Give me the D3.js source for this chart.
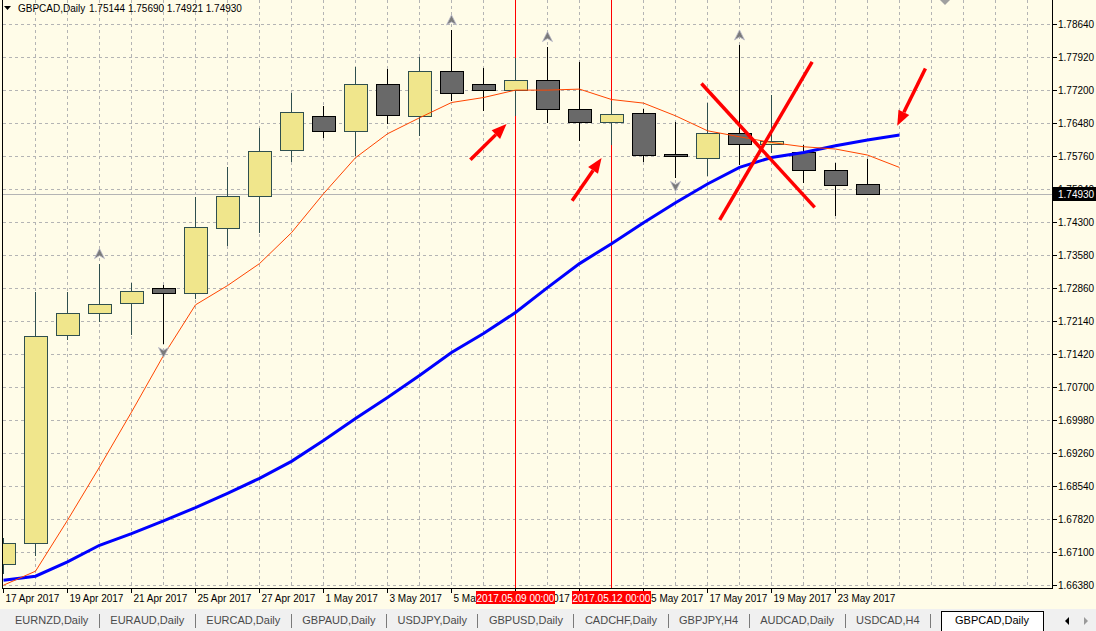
<!DOCTYPE html>
<html lang="en">

<head>
    <meta charset="UTF-8">
    <title>GBPCAD,Daily</title>
    <script src="https://d3js.org/d3.v7.min.js"></script>
    <style>
        body {
            margin: 0;
            padding: 0;
            overflow: hidden;
            background: #fffce8;
        }

        svg {
            display: block;
            font-family: "Liberation Sans", Arial, sans-serif;
        }

        .grid line {
            stroke: #b4b4b4;
            stroke-dasharray: 3, 3;
            shape-rendering: crispEdges;
        }

        .axis-label {
            font-size: 10px;
            fill: #000;
        }

        .tab-label {
            font-size: 11px;
            fill: #4a4a4a;
        }
    </style>
</head>

<body>
<svg id="chart" width="1096" height="631"></svg>

<script>
    // bars (one per trading day)
    const barDates = ["17 Apr 2017", "18 Apr 2017", "19 Apr 2017", "20 Apr 2017", "21 Apr 2017",
        "24 Apr 2017", "25 Apr 2017", "26 Apr 2017", "27 Apr 2017", "28 Apr 2017",
        "1 May 2017", "2 May 2017", "3 May 2017", "4 May 2017", "5 May 2017",
        "8 May 2017", "9 May 2017", "10 May 2017", "11 May 2017", "12 May 2017",
        "15 May 2017", "16 May 2017", "17 May 2017", "18 May 2017", "19 May 2017",
        "22 May 2017", "23 May 2017", "24 May 2017"];
    const openP = [1.66845, 1.67296, 1.71835, 1.72315, 1.72533, 1.72860, 1.72757, 1.74176, 1.74874, 1.75877,
        1.76619, 1.76292, 1.77317, 1.76635, 1.77616, 1.77333, 1.77202, 1.77420, 1.76787, 1.76504,
        1.76700, 1.75790, 1.75725, 1.76255, 1.76024, 1.75849, 1.75456, 1.75144];
    const highP = [1.67412, 1.72786, 1.72801, 1.73412, 1.72991, 1.72947, 1.74874, 1.75528, 1.76379, 1.77143,
        1.76859, 1.77710, 1.77667, 1.77928, 1.78517, 1.77688, 1.77913, 1.78153, 1.77826, 1.76968,
        1.76787, 1.76510, 1.76918, 1.78190, 1.77099, 1.76008, 1.75609, 1.75690];
    const lowP = [1.66627, 1.67026, 1.71754, 1.72131, 1.71856, 1.71645, 1.72648, 1.73805, 1.74088, 1.75637,
        1.76161, 1.75768, 1.76467, 1.76209, 1.76968, 1.76744, 1.76641, 1.76473, 1.76096, 1.76008,
        1.75622, 1.75273, 1.75317, 1.75557, 1.75827, 1.75173, 1.74444, 1.74921];
    const closeP = [1.67296, 1.71819, 1.72315, 1.72517, 1.72795, 1.72751, 1.74197, 1.74874, 1.75856, 1.76707,
        1.76292, 1.77317, 1.76641, 1.77616, 1.77136, 1.77202, 1.77420, 1.76787, 1.76504, 1.76678,
        1.75784, 1.75740, 1.76264, 1.76024, 1.76089, 1.75456, 1.75129, 1.74930];

    // moving averages, shifted one bar forward (29 points)
    const maFast = [1.66387, 1.66692, 1.67805, 1.68968, 1.70168, 1.71405, 1.72511, 1.72932, 1.73412, 1.74088,
        1.74939, 1.75725, 1.76248, 1.76597, 1.76931, 1.77040, 1.77202, 1.77202, 1.77224, 1.76997,
        1.76918, 1.76641, 1.76314, 1.76183, 1.76058, 1.75965, 1.75915, 1.75784, 1.75513];
    const maSlow = [1.66496, 1.66583, 1.66895, 1.67259, 1.67515, 1.67790, 1.68082, 1.68394, 1.68721, 1.69092,
        1.69550, 1.70030, 1.70488, 1.70968, 1.71470, 1.71885, 1.72343, 1.72888, 1.73412, 1.73848,
        1.74307, 1.74743, 1.75151, 1.75513, 1.75731, 1.75840, 1.75987, 1.76111, 1.76220];

    const priceTicks = [1.66380, 1.67100, 1.67820, 1.68540, 1.69260, 1.69980, 1.70700, 1.71420, 1.72140,
        1.72860, 1.73580, 1.74300, 1.75040, 1.75760, 1.76480, 1.77200, 1.77920, 1.78640];
    const lastPrice = 1.74930;

    // fractal arrows
    const upMarks = [3, 14, 17, 23];
    const downMarks = [5, 21];

    // vertical marker lines
    const markerBars = [16, 19];
    const markerLabels = ["2017.05.09 00:00", "2017.05.12 00:00"];

    // hand drawn annotations: [bar, price] start -> end
    const redArrows = [
        [[14.59, 1.75681], [15.72, 1.76460]],
        [[17.77, 1.74787], [18.69, 1.75718]],
        [[28.81, 1.77673], [27.93, 1.76423]]
    ];
    const redCross = [
        [[21.81, 1.77346], [25.35, 1.74640]],
        [[25.27, 1.77819], [22.38, 1.74365]]
    ];

    const tabNames = ["EURNZD,Daily", "EURAUD,Daily", "EURCAD,Daily", "GBPAUD,Daily", "USDJPY,Daily",
        "GBPUSD,Daily", "CADCHF,Daily", "GBPJPY,H4", "AUDCAD,Daily", "USDCAD,H4"];
    const activeTab = "GBPCAD,Daily";

    const width = 1096, height = 631;
    const plotRight = 1052.5, plotBottom = 588.5, plotLeft = 2.5;

    const svg = d3.select("#chart");
    const crisp = v => Math.round(v - 0.5) + 0.5;

    const x = d3.scaleLinear().domain([0, 32]).range([3.5, 1027.5]);
    const y = d3.scaleLinear().domain([1.6638, 1.7864]).range([585.5, 24.3]);

    svg.append("rect").attr("width", width).attr("height", height).attr("fill", "#fffce8");

    svg.append("clipPath").attr("id", "plot-clip")
        .append("rect").attr("x", plotLeft).attr("y", 0)
        .attr("width", plotRight - plotLeft).attr("height", plotBottom);

    // grid
    const grid = svg.append("g").attr("class", "grid");
    grid.selectAll(".vgrid")
        .data(d3.range(1, 33))
        .enter().append("line")
        .attr("x1", d => x(d)).attr("x2", d => x(d))
        .attr("y1", 0).attr("y2", plotBottom);
    grid.selectAll(".hgrid")
        .data(priceTicks)
        .enter().append("line")
        .attr("x1", plotLeft).attr("x2", plotRight)
        .attr("y1", d => crisp(y(d))).attr("y2", d => crisp(y(d)));

    const plot = svg.append("g").attr("clip-path", "url(#plot-clip)");

    // current price line
    plot.append("line")
        .attr("x1", plotLeft).attr("x2", plotRight)
        .attr("y1", crisp(y(lastPrice))).attr("y2", crisp(y(lastPrice)))
        .attr("stroke", "#b4b4b4").attr("shape-rendering", "crispEdges");

    // vertical marker lines
    plot.selectAll(".marker")
        .data(markerBars)
        .enter().append("line")
        .attr("x1", d => x(d)).attr("x2", d => x(d))
        .attr("y1", 0).attr("y2", plotBottom)
        .attr("stroke", "#ff0000").attr("shape-rendering", "crispEdges");

    // candles
    const bars = d3.range(barDates.length).map(i => ({
        i: i, o: openP[i], h: highP[i], l: lowP[i], c: closeP[i], up: closeP[i] >= openP[i]
    }));

    const candle = plot.append("g").selectAll("g")
        .data(bars)
        .enter().append("g")
        .attr("shape-rendering", "crispEdges");

    candle.append("line")
        .attr("x1", d => x(d.i)).attr("x2", d => x(d.i))
        .attr("y1", d => y(d.h)).attr("y2", d => y(d.l))
        .attr("stroke", d => d.up ? "#2f4f4f" : "#000");

    candle.append("rect")
        .attr("x", d => x(d.i) - 11.5)
        .attr("width", 23)
        .attr("y", d => crisp(y(Math.max(d.o, d.c))))
        .attr("height", d => Math.max(2, Math.round(Math.abs(y(d.o) - y(d.c)))))
        .attr("fill", d => d.up ? "#f0e68c" : "#696969")
        .attr("stroke", d => d.up ? "#2f4f4f" : "#000");

    // moving averages
    const line = d3.line().x((d, i) => x(i)).y(d => y(d));
    plot.append("path").datum(maSlow)
        .attr("d", line).attr("fill", "none")
        .attr("stroke", "#0000ff").attr("stroke-width", 3);
    plot.append("path").datum(maFast)
        .attr("d", line).attr("fill", "none")
        .attr("stroke", "#ff4500").attr("stroke-width", 1);

    // fractal arrows
    const upShape = "M0,-5L5,5L0,2L-5,5Z";
    plot.selectAll(".up-mark")
        .data(upMarks)
        .enter().append("path")
        .attr("d", upShape)
        .attr("transform", d => `translate(${x(d)},${y(highP[d]) - 10})`)
        .attr("fill", "#7a7a7a").attr("stroke", "#b8b8c8").attr("stroke-width", 0.8);
    plot.selectAll(".down-mark")
        .data(downMarks)
        .enter().append("path")
        .attr("d", upShape)
        .attr("transform", d => `translate(${x(d)},${y(lowP[d]) + 8}) scale(1,-1)`)
        .attr("fill", "#7a7a7a").attr("stroke", "#b8b8c8").attr("stroke-width", 0.8);

    // red annotations
    const notes = svg.append("g");
    redArrows.forEach(a => {
        const x1 = x(a[0][0]), y1 = y(a[0][1]), x2 = x(a[1][0]), y2 = y(a[1][1]);
        const ang = Math.atan2(y2 - y1, x2 - x1);
        const len = 15, half = 6;
        const bx = x2 - len * Math.cos(ang), by = y2 - len * Math.sin(ang);
        notes.append("line")
            .attr("x1", x1).attr("y1", y1).attr("x2", bx).attr("y2", by)
            .attr("stroke", "#ff0000").attr("stroke-width", 3.5);
        notes.append("path")
            .attr("d", `M${x2},${y2}L${bx + half * Math.sin(ang)},${by - half * Math.cos(ang)}` +
                `L${bx - half * Math.sin(ang)},${by + half * Math.cos(ang)}Z`)
            .attr("fill", "#ff0000");
    });
    notes.selectAll(".cross")
        .data(redCross)
        .enter().append("line")
        .attr("x1", d => x(d[0][0])).attr("y1", d => y(d[0][1]))
        .attr("x2", d => x(d[1][0])).attr("y2", d => y(d[1][1]))
        .attr("stroke", "#ff0000").attr("stroke-width", 3.5);

    // frame
    svg.append("path")
        .attr("d", `M${plotLeft},0V${plotBottom}H${plotRight}V0`)
        .attr("fill", "none").attr("stroke", "#000").attr("shape-rendering", "crispEdges");

    // chart shift marker
    svg.append("path").attr("d", "M940,0L950,0L945,5Z").attr("fill", "#a0a0a0");

    // price axis
    const pAxis = svg.append("g");
    pAxis.selectAll("line")
        .data(priceTicks)
        .enter().append("line")
        .attr("x1", plotRight).attr("x2", plotRight + 4)
        .attr("y1", d => crisp(y(d))).attr("y2", d => crisp(y(d)))
        .attr("stroke", "#000").attr("shape-rendering", "crispEdges");
    pAxis.selectAll("text")
        .data(priceTicks)
        .enter().append("text")
        .attr("class", "axis-label")
        .attr("x", 1058).attr("y", d => y(d) + 3.5)
        .text(d => d3.format(".5f")(d));

    pAxis.append("rect")
        .attr("x", 1053).attr("y", crisp(y(lastPrice)) - 7.5)
        .attr("width", 43).attr("height", 14).attr("fill", "#000");
    pAxis.append("text")
        .attr("class", "axis-label")
        .attr("x", 1058).attr("y", y(lastPrice) + 3.5)
        .attr("fill", "#fff").style("fill", "#fff")
        .text(d3.format(".5f")(lastPrice));

    // time axis
    const timeBars = d3.range(0, barDates.length, 2);
    const tAxis = svg.append("g");
    tAxis.selectAll("line")
        .data(timeBars)
        .enter().append("line")
        .attr("x1", d => x(d)).attr("x2", d => x(d))
        .attr("y1", plotBottom).attr("y2", plotBottom + 4)
        .attr("stroke", "#000").attr("shape-rendering", "crispEdges");
    tAxis.selectAll("text")
        .data(timeBars)
        .enter().append("text")
        .attr("class", "axis-label")
        .attr("x", d => x(d) + 2).attr("y", 602)
        .text(d => barDates[d]);

    markerBars.forEach((b, k) => {
        tAxis.append("rect")
            .attr("x", crisp(x(b)) - 39.5).attr("y", 591)
            .attr("width", 79).attr("height", 13).attr("fill", "#ff0000");
        tAxis.append("text")
            .attr("class", "axis-label")
            .attr("x", x(b)).attr("y", 601.5)
            .attr("text-anchor", "middle")
            .style("fill", "#fff")
            .text(markerLabels[k]);
    });

    // header
    svg.append("path").attr("d", "M4,6H11L7.5,10Z").attr("fill", "#000");
    svg.append("text").attr("class", "axis-label").attr("x", 18).attr("y", 12).text("GBPCAD,Daily");
    svg.append("text").attr("class", "axis-label").attr("x", 89).attr("y", 12)
        .text([openP, highP, lowP, closeP].map(a => d3.format(".5f")(a[a.length - 1])).join(" "));

    // symbol tabs
    const tabs = svg.append("g");
    tabs.append("rect").attr("x", 0).attr("y", 609).attr("width", width).attr("height", 22).attr("fill", "#f0f0f0");
    let tx = 15;
    tabNames.forEach(name => {
        const t = tabs.append("text").attr("class", "tab-label").attr("x", tx).attr("y", 624).text(name);
        const w = t.node().getComputedTextLength();
        tabs.append("line")
            .attr("x1", crisp(tx + w + 11)).attr("x2", crisp(tx + w + 11))
            .attr("y1", 614).attr("y2", 628)
            .attr("stroke", "#7a7a7a").attr("shape-rendering", "crispEdges");
        tx += w + 22;
    });
    const at = tabs.append("text").attr("class", "tab-label").attr("x", 955).attr("y", 624)
        .style("fill", "#000").text(activeTab);
    const aw = at.node().getComputedTextLength();
    tabs.insert("rect", "text")
        .attr("x", 941.5).attr("y", 611.5).attr("width", aw + 28).attr("height", 21)
        .attr("fill", "#fff").attr("stroke", "#000").attr("shape-rendering", "crispEdges");
    tabs.append("path").attr("d", "M1065,621L1069,617V625Z").attr("fill", "#000");
    tabs.append("path").attr("d", "M1088,621L1084,617V625Z").attr("fill", "#9a9a9a");
</script>
</body>

</html>
